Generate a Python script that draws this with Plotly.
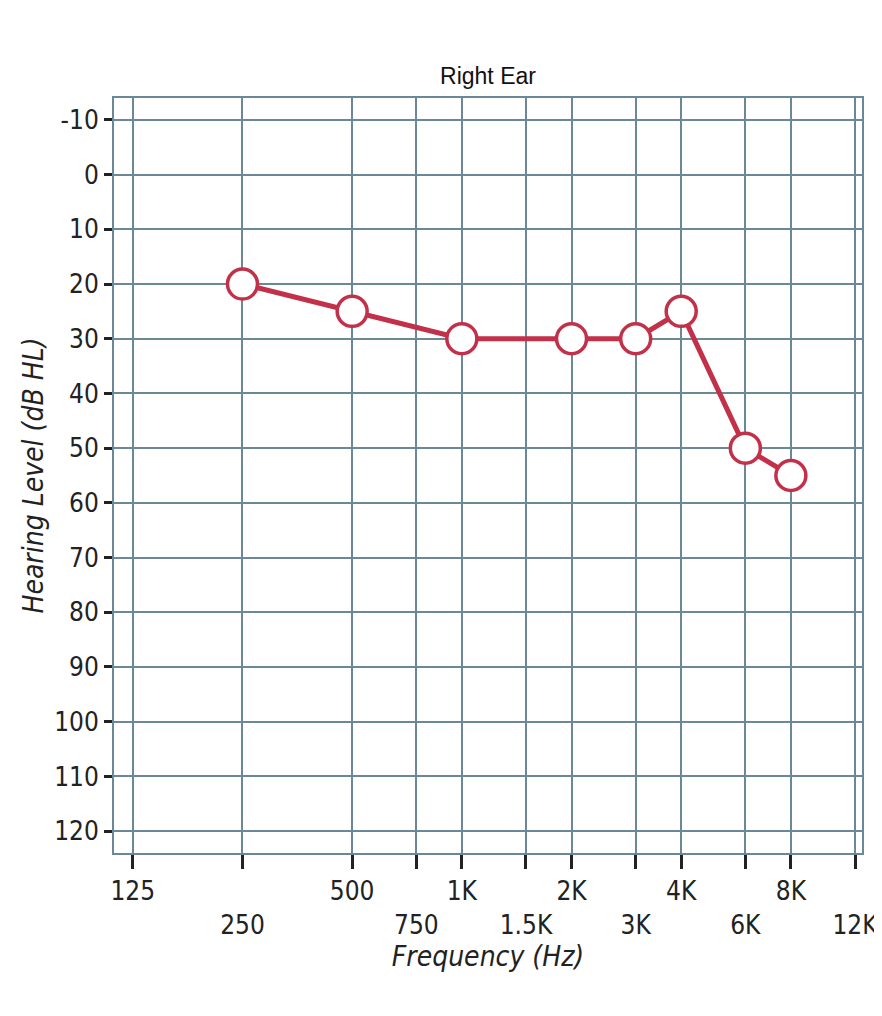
import plotly.graph_objects as go
import numpy as np

# Audiogram data, right ear
freqs = [250, 500, 1000, 2000, 3000, 4000, 6000, 8000]
levels = [20, 25, 30, 30, 30, 25, 50, 55]

tick_freqs = [125, 250, 500, 750, 1000, 1500, 2000, 3000, 4000, 6000, 8000, 12000]
tick_labels = ['125', '<br>250', '500', '<br>750', '1K', '<br>1.5K', '2K', '<br>3K',
               '4K', '<br>6K', '8K', '<br>12K']
db_ticks = list(range(-10, 130, 10))
db_labels = [str(v) for v in db_ticks]

grid_color = '#6b8896'
red = '#c23049'
font_family = "'DejaVu Sans Condensed', 'DejaVu Sans', sans-serif"

fig = go.Figure()

fig.add_trace(go.Scatter(
    x=freqs,
    y=levels,
    mode='lines+markers',
    line=dict(color=red, width=5),
    marker=dict(size=30, color='white', line=dict(color=red, width=3.5)),
    showlegend=False
))

fig.update_layout(
    width=882,
    height=1016,
    margin=dict(l=106, r=17, t=90, b=171),
    paper_bgcolor='white',
    plot_bgcolor='white',
    title=dict(text='Right Ear', x=0.5, xref='paper', y=0.925, yanchor='bottom',
               font=dict(family='Liberation Sans', size=23, color='#111')),
    xaxis=dict(
        type='log',
        range=[np.log10(111), np.log10(12540)],
        tickvals=tick_freqs,
        ticktext=tick_labels,
        tickfont=dict(family=font_family, size=26, color='#222'),
        ticks='outside',
        ticklen=14,
        tickwidth=3,
        tickcolor='#222',
        showgrid=True,
        gridcolor=grid_color,
        gridwidth=2,
        showline=True,
        linecolor=grid_color,
        linewidth=2,
        mirror=True,
        zeroline=False,
        title=dict(text='<i>Frequency (Hz)</i>', standoff=4,
                   font=dict(family=font_family, size=28, color='#222')),
    ),
    yaxis=dict(
        range=[124, -14],
        tickvals=db_ticks,
        ticktext=db_labels,
        tickfont=dict(family=font_family, size=26, color='#222'),
        ticks='outside',
        ticklen=8,
        tickwidth=3,
        tickcolor='#222',
        showgrid=True,
        gridcolor=grid_color,
        gridwidth=2,
        showline=True,
        linecolor=grid_color,
        linewidth=2,
        mirror=True,
        zeroline=False,
        title=dict(text='<i>Hearing Level (dB HL)</i>', standoff=2,
                   font=dict(family=font_family, size=28, color='#222')),
    ),
)

fig.write_html('out.html')
